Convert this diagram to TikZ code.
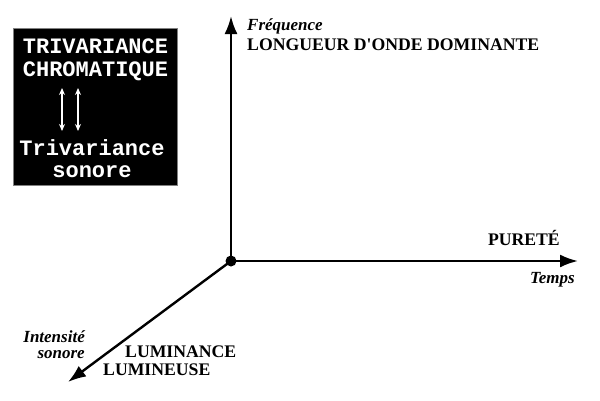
\documentclass[tikz,border=0pt]{standalone}
\usepackage{fontspec}
\setmainfont{Liberation Serif}
\newfontfamily\monob{Liberation Mono}
\usetikzlibrary{arrows.meta}
\tikzset{
  axis/.style={line width=2.4pt,-{Latex[length=18pt,width=13pt]}},
  caps/.style={font=\fontsize{17.7}{17.7}\selectfont\bfseries,inner sep=0pt,anchor=base},
  ital/.style={font=\fontsize{17}{17}\selectfont\bfseries\itshape,inner sep=0pt,anchor=base},
  boxtxt/.style={font=\fontsize{22}{22}\selectfont\monob\bfseries,text=white,inner sep=0pt,anchor=base},
  dbl/.style={white,line width=1.3pt,{Stealth[length=7pt,width=6pt]}-{Stealth[length=7pt,width=6pt]}}
}
\begin{document}
\begin{tikzpicture}[x=1pt,y=-1pt]
\useasboundingbox (0,0) rectangle (600,400);
% black box
\node[draw=gray,fill=black,minimum width=164pt,minimum height=157pt,inner sep=0pt,line width=0.6pt] (box) at (95,106.5) {};
\node[boxtxt] (t1) at (95.5,53) {TRIVARIANCE};
\node[boxtxt] (t2) at (95.5,76) {CHROMATIQUE};
\node[boxtxt] (t3) at (92,155) {Trivariance};
\node[boxtxt] (t4) at (92,177) {sonore};
\coordinate (a1t) at (62,88);
\coordinate (a1b) at (62,131);
\coordinate (a2t) at (78,88);
\coordinate (a2b) at (78,131);
\draw[dbl] (a1t) -- (a1b);
\draw[dbl] (a2t) -- (a2b);
% axes
\coordinate (O) at (231,261);
\coordinate (up) at (231,16);
\coordinate (right) at (578,261);
\coordinate (diag) at (68,382);
\draw[axis] (O) -- (up);
\draw[axis] (O) -- (right);
\draw[axis] (O) -- (diag);
\node[fill=black,circle,inner sep=0pt,minimum size=11pt] (dot) at (O) {};
% labels
\node[ital,anchor=base west] (freq) at (247,30) {Fréquence};
\node[caps,anchor=base west] (lod) at (247,50) {LONGUEUR D\textquotesingle ONDE DOMINANTE};
\node[caps,anchor=base east] (pur) at (560,245) {PURETÉ};
\node[ital,anchor=base east] (temps) at (575,283) {Temps};
\node[ital,anchor=base east] (int) at (85,342) {Intensité};
\node[ital,anchor=base east] (son) at (85,358) {sonore};
\node[caps,anchor=base west] (lum1) at (125,357) {LUMINANCE};
\node[caps,anchor=base west] (lum2) at (103,375) {LUMINEUSE};
\end{tikzpicture}
\end{document}
